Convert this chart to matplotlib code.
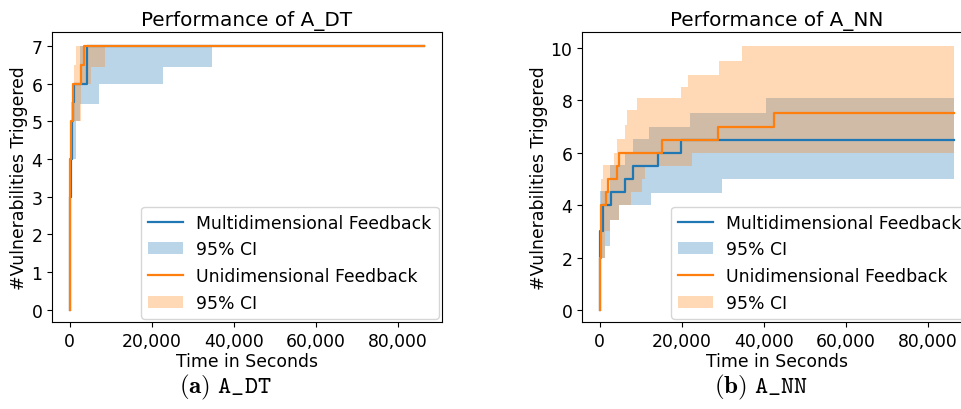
import matplotlib
matplotlib.use("Agg")
import matplotlib.pyplot as plt
from matplotlib.ticker import StrMethodFormatter

plt.rcParams['font.family'] = ['DejaVu Sans']
plt.rcParams['font.size'] = 12.4

# ---- A_DT ----
dt_multi_t = [0, 100, 300, 450, 600, 700, 1000, 1500, 2400, 4300, 7100, 22700, 34600, 86400]
dt_multi_mean = [0, 3, 4, 5, 5, 5.5, 6, 6, 6, 7, 7, 7, 7, 7]
dt_multi_lo = [0, 2.5, 3.0, 3.5, 4.0, 4.0, 4.0, 5.0, 5.46, 5.46, 6.0, 6.45, 7.0, 7.0]
dt_multi_hi = [0, 4.5, 5.0, 5.5, 6.0, 6.0, 6.0, 6.0, 7.0, 7.0, 7.0, 7.0, 7.0, 7.0]

dt_uni_t = [0, 50, 150, 250, 500, 800, 1000, 1600, 2850, 3400, 5300, 8500, 86400]
dt_uni_mean = [0, 3, 4, 5, 5, 6, 6, 6, 6.5, 7, 7, 7, 7]
dt_uni_lo = [0, 2, 3, 4, 4, 5, 5, 5, 6, 6, 6.45, 7, 7]
dt_uni_hi = [0, 4, 5, 5.5, 6, 6, 6.5, 7, 7, 7, 7, 7, 7]

# ---- A_NN ----
nn_multi_t = [0, 100, 800, 1400, 2400, 2700, 4700, 6200, 8100, 12000, 12400, 14200,
              19800, 22000, 29700, 40500, 86400]
nn_multi_mean = [0, 3, 4, 4, 4, 4.5, 4.5, 5, 5.5, 5.5, 5.5, 6, 6.5, 6.5, 6.5, 6.5, 6.5]
nn_multi_lo = [0, 2.0, 2.0, 2.45, 3.45, 3.45, 4.0, 4.0, 4.0, 4.0, 4.45, 4.45, 4.45,
               4.45, 5.0, 5.0, 5.0]
nn_multi_hi = [0, 4.53, 4.53, 4.53, 5.53, 5.53, 5.53, 6.0, 6.53, 6.97, 6.97, 6.97,
               6.97, 7.52, 7.52, 8.08, 8.08]

nn_uni_t = [0, 100, 200, 400, 700, 1300, 1600, 2100, 2400, 3600, 4200, 4300, 4700,
            6100, 6700, 7500, 9100, 10200, 11000, 15100, 19800, 21500, 22400, 28800,
            29100, 34700, 42400, 86400]
nn_uni_mean = [0, 2, 3, 4, 4, 4, 4.5, 5, 5, 5, 5.5, 5.5, 6, 6, 6, 6, 6, 6, 6, 6.5,
               6.5, 6.5, 6.5, 7, 7, 7, 7.5, 7.5]
nn_uni_lo = [0, 1, 2, 2, 2, 3.03, 3.03, 3.03, 3.45, 3.45, 3.45, 3.45, 4.0, 4.0, 4.0,
             4.5, 4.5, 5.0, 5.5, 5.5, 5.5, 5.5, 6.0, 6.0, 6.0, 6.0, 6.0, 6.0]
nn_uni_hi = [0, 3, 5.0, 5.0, 5.53, 5.53, 5.53, 5.53, 5.53, 6.0, 6.0, 6.53, 6.53, 7.07,
             7.63, 7.63, 8.08, 8.08, 8.08, 8.08, 8.52, 8.97, 8.97, 8.97, 9.52, 10.06,
             10.06, 10.06]

fig = plt.figure(figsize=(9.62, 4.10), dpi=100)
ax1 = fig.add_axes([52 / 962, 87 / 410, 390 / 962, 290 / 410])
ax2 = fig.add_axes([582 / 962, 87 / 410, 390 / 962, 290 / 410])


def draw(ax, title, multi, uni):
    t, m, lo, hi = multi
    ax.plot(t, m, drawstyle='steps-post', color='C0', lw=1.6, label='Multidimensional Feedback')
    ax.fill_between(t, lo, hi, step='post', color='C0', alpha=0.3, lw=0, label='95% CI')
    t, m, lo, hi = uni
    ax.plot(t, m, drawstyle='steps-post', color='C1', lw=1.6, label='Unidimensional Feedback')
    ax.fill_between(t, lo, hi, step='post', color='C1', alpha=0.3, lw=0, label='95% CI')
    ax.set_title(title, fontsize=14.4, pad=5)
    ax.set_xlabel('Time in Seconds', labelpad=2)
    ax.set_ylabel('#Vulnerabilities Triggered', labelpad=2)
    ax.xaxis.set_major_formatter(StrMethodFormatter('{x:,.0f}'))
    ax.set_xlim(-4320, 90720)
    ax.legend(loc='lower right', borderaxespad=0.2)


draw(ax1, 'Performance of A_DT',
     (dt_multi_t, dt_multi_mean, dt_multi_lo, dt_multi_hi),
     (dt_uni_t, dt_uni_mean, dt_uni_lo, dt_uni_hi))
ax1.set_ylim(-0.33, 7.37)
ax1.set_yticks(range(0, 8))

draw(ax2, 'Performance of A_NN',
     (nn_multi_t, nn_multi_mean, nn_multi_lo, nn_multi_hi),
     (nn_uni_t, nn_uni_mean, nn_uni_lo, nn_uni_hi))
ax2.set_ylim(-0.46, 10.61)
ax2.set_yticks([0, 2, 4, 6, 8, 10])

# subfigure captions (computer modern, bold label + typewriter name)
cap_y = 1 - 387 / 410
fig.text(225 / 962, cap_y, r'$\mathbf{(a)}\ \mathtt{A\_DT}$', ha='center', va='center',
         math_fontfamily='cm', fontsize=18)
fig.text(761 / 962, cap_y, r'$\mathbf{(b)}\ \mathtt{A\_NN}$', ha='center', va='center',
         math_fontfamily='cm', fontsize=18)

fig.savefig('out.png', dpi=100)
